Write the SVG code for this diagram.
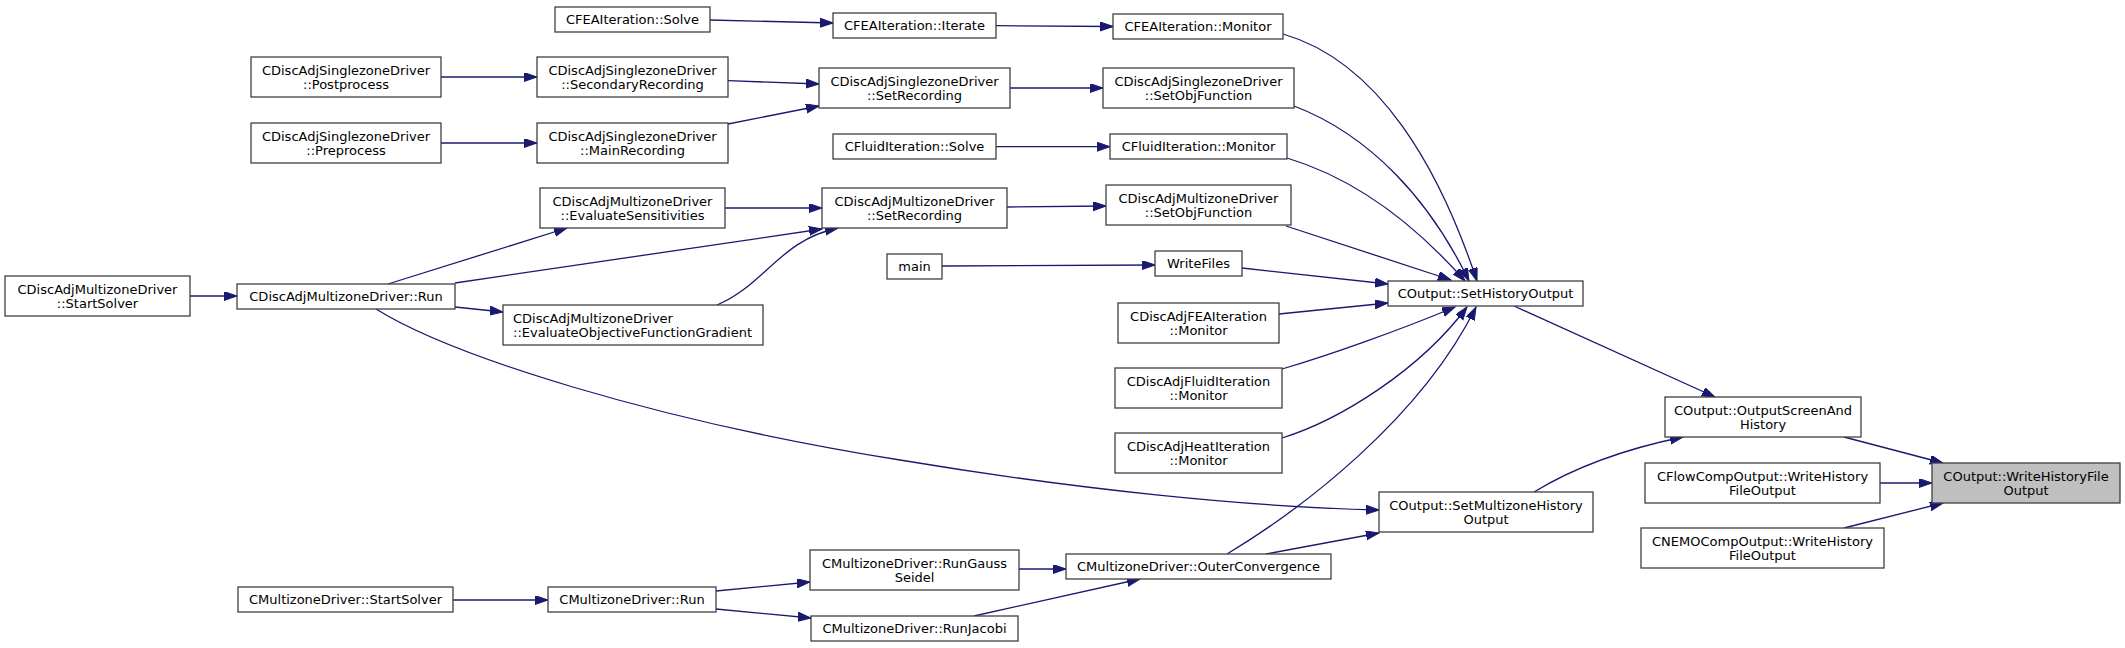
<svg xmlns="http://www.w3.org/2000/svg" width="2125" height="648" viewBox="0 0 2125 648">
<style>
.n rect{fill:#ffffff;stroke:#404040;stroke-width:1.3}
.n.t rect{fill:#bfbfbf}
.n text{font-family:"DejaVu Sans",sans-serif;font-size:13px;fill:#000;text-anchor:middle}
.n text.l{text-anchor:start}
.e path{fill:none;stroke:#191970;stroke-width:1.3;marker-end:url(#a)}
</style>
<defs>
<marker id="a" markerUnits="userSpaceOnUse" markerWidth="14" markerHeight="10" refX="13" refY="4.5" orient="auto">
<path d="M0,0 L13,4.5 L0,9 z" fill="#191970" stroke="#191970" stroke-width="1"/>
</marker>
</defs>
<rect width="2125" height="648" fill="#ffffff"/>
<g id="edges" class="e">
<path d="M710,20 L833,23"/>
<path d="M996,25.7 L1113,26.5"/>
<path d="M1283,34 C1380,62 1440,170 1477,281"/>
<path d="M441,77 L537,77"/>
<path d="M728,80.7 L819,84"/>
<path d="M441,143 L537,143"/>
<path d="M728,124 L819,106"/>
<path d="M1010,88 L1103,88"/>
<path d="M1294,106 C1370,135 1430,200 1469,281"/>
<path d="M996,146.7 L1110,146.7"/>
<path d="M1287,158 C1360,180 1420,230 1465,281"/>
<path d="M725,208 L822,208"/>
<path d="M190,296 L237,296"/>
<path d="M388,284 L567,228"/>
<path d="M455,283 L822,229"/>
<path d="M717,305 C765,285 780,240 838,228"/>
<path d="M455,307 L503,312"/>
<path d="M1007,207 L1106,206"/>
<path d="M1286,226 L1451,280"/>
<path d="M942,266 L1155,265"/>
<path d="M1242,268 L1388,284"/>
<path d="M1279,314 L1388,303"/>
<path d="M1282,369 C1330,355 1400,330 1455,307"/>
<path d="M1282,438 C1340,420 1420,370 1467,307"/>
<path d="M1227,554 C1300,510 1420,420 1476,307"/>
<path d="M376,309 C450,355 650,420 900,460 C1080,490 1250,507 1379,510"/>
<path d="M1266,554 L1379,533"/>
<path d="M1514,306 L1715,397"/>
<path d="M1534,492 C1570,470 1620,450 1683,437"/>
<path d="M1844,437 L1943,463"/>
<path d="M1880,483 L1932,483"/>
<path d="M1844,528 L1943,503"/>
<path d="M453,600 L548,600"/>
<path d="M716,591 L810,582"/>
<path d="M716,609 L811,618"/>
<path d="M1019,569 L1066,569"/>
<path d="M974,616 L1140,579"/>
</g>
<g id="n1" class="n"><rect x="555" y="7" width="155" height="25"/><text x="632.5" y="24">CFEAIteration::Solve</text></g>
<g id="n2" class="n"><rect x="833" y="13" width="163" height="25"/><text x="914.5" y="30">CFEAIteration::Iterate</text></g>
<g id="n3" class="n"><rect x="1113" y="14" width="170" height="25"/><text x="1198" y="31">CFEAIteration::Monitor</text></g>
<g id="n4" class="n"><rect x="251" y="57" width="190" height="40"/><text x="346" y="74.5">CDiscAdjSinglezoneDriver</text><text x="346" y="88.5">::Postprocess</text></g>
<g id="n5" class="n"><rect x="537" y="57" width="191" height="40"/><text x="632.5" y="74.5">CDiscAdjSinglezoneDriver</text><text x="632.5" y="88.5">::SecondaryRecording</text></g>
<g id="n6" class="n"><rect x="251" y="123" width="190" height="40"/><text x="346" y="140.5">CDiscAdjSinglezoneDriver</text><text x="346" y="154.5">::Preprocess</text></g>
<g id="n7" class="n"><rect x="537" y="123" width="191" height="40"/><text x="632.5" y="140.5">CDiscAdjSinglezoneDriver</text><text x="632.5" y="154.5">::MainRecording</text></g>
<g id="n8" class="n"><rect x="819" y="68" width="191" height="40"/><text x="914.5" y="85.5">CDiscAdjSinglezoneDriver</text><text x="914.5" y="99.5">::SetRecording</text></g>
<g id="n9" class="n"><rect x="1103" y="68" width="191" height="40"/><text x="1198.5" y="85.5">CDiscAdjSinglezoneDriver</text><text x="1198.5" y="99.5">::SetObjFunction</text></g>
<g id="n10" class="n"><rect x="833" y="134" width="163" height="25"/><text x="914.5" y="151">CFluidIteration::Solve</text></g>
<g id="n11" class="n"><rect x="1110" y="134" width="177" height="25"/><text x="1198.5" y="151">CFluidIteration::Monitor</text></g>
<g id="n12" class="n"><rect x="540" y="188" width="185" height="40"/><text x="632.5" y="205.5">CDiscAdjMultizoneDriver</text><text x="632.5" y="219.5">::EvaluateSensitivities</text></g>
<g id="n13" class="n"><rect x="822" y="188" width="185" height="40"/><text x="914.5" y="205.5">CDiscAdjMultizoneDriver</text><text x="914.5" y="219.5">::SetRecording</text></g>
<g id="n14" class="n"><rect x="1106" y="185" width="185" height="40"/><text x="1198.5" y="202.5">CDiscAdjMultizoneDriver</text><text x="1198.5" y="216.5">::SetObjFunction</text></g>
<g id="n15" class="n"><rect x="887" y="254" width="55" height="25"/><text x="914.5" y="271">main</text></g>
<g id="n16" class="n"><rect x="1155" y="251" width="87" height="25"/><text x="1198.5" y="268">WriteFiles</text></g>
<g id="n17" class="n"><rect x="5" y="276" width="185" height="40"/><text x="97.5" y="293.5">CDiscAdjMultizoneDriver</text><text x="97.5" y="307.5">::StartSolver</text></g>
<g id="n18" class="n"><rect x="237" y="284" width="218" height="25"/><text x="346" y="301">CDiscAdjMultizoneDriver::Run</text></g>
<g id="n19" class="n"><rect x="503" y="305" width="260" height="40"/><text class="l" x="513" y="322.5">CDiscAdjMultizoneDriver</text><text class="l" x="513" y="336.5">::EvaluateObjectiveFunctionGradient</text></g>
<g id="n20" class="n"><rect x="1118" y="303" width="161" height="40"/><text x="1198.5" y="320.5">CDiscAdjFEAIteration</text><text x="1198.5" y="334.5">::Monitor</text></g>
<g id="n21" class="n"><rect x="1388" y="281" width="195" height="25"/><text x="1485.5" y="298">COutput::SetHistoryOutput</text></g>
<g id="n22" class="n"><rect x="1115" y="368" width="167" height="40"/><text x="1198.5" y="385.5">CDiscAdjFluidIteration</text><text x="1198.5" y="399.5">::Monitor</text></g>
<g id="n23" class="n"><rect x="1115" y="433" width="167" height="40"/><text x="1198.5" y="450.5">CDiscAdjHeatIteration</text><text x="1198.5" y="464.5">::Monitor</text></g>
<g id="n24" class="n"><rect x="1665" y="397" width="196" height="40"/><text x="1763" y="414.5">COutput::OutputScreenAnd</text><text x="1763" y="428.5">History</text></g>
<g id="n25" class="n"><rect x="1645" y="463" width="235" height="40"/><text x="1762.5" y="480.5">CFlowCompOutput::WriteHistory</text><text x="1762.5" y="494.5">FileOutput</text></g>
<g id="n26" class="n t"><rect x="1932" y="463" width="188" height="40"/><text x="2026" y="480.5">COutput::WriteHistoryFile</text><text x="2026" y="494.5">Output</text></g>
<g id="n27" class="n"><rect x="1641" y="528" width="243" height="40"/><text x="1762.5" y="545.5">CNEMOCompOutput::WriteHistory</text><text x="1762.5" y="559.5">FileOutput</text></g>
<g id="n28" class="n"><rect x="1379" y="492" width="214" height="40"/><text x="1486" y="509.5">COutput::SetMultizoneHistory</text><text x="1486" y="523.5">Output</text></g>
<g id="n29" class="n"><rect x="810" y="550" width="209" height="40"/><text x="914.5" y="567.5">CMultizoneDriver::RunGauss</text><text x="914.5" y="581.5">Seidel</text></g>
<g id="n30" class="n"><rect x="1066" y="554" width="265" height="25"/><text x="1198.5" y="571">CMultizoneDriver::OuterConvergence</text></g>
<g id="n31" class="n"><rect x="811" y="616" width="207" height="25"/><text x="914.5" y="633">CMultizoneDriver::RunJacobi</text></g>
<g id="n32" class="n"><rect x="238" y="587" width="215" height="25"/><text x="345.5" y="604">CMultizoneDriver::StartSolver</text></g>
<g id="n33" class="n"><rect x="548" y="587" width="168" height="25"/><text x="632" y="604">CMultizoneDriver::Run</text></g>
</svg>
